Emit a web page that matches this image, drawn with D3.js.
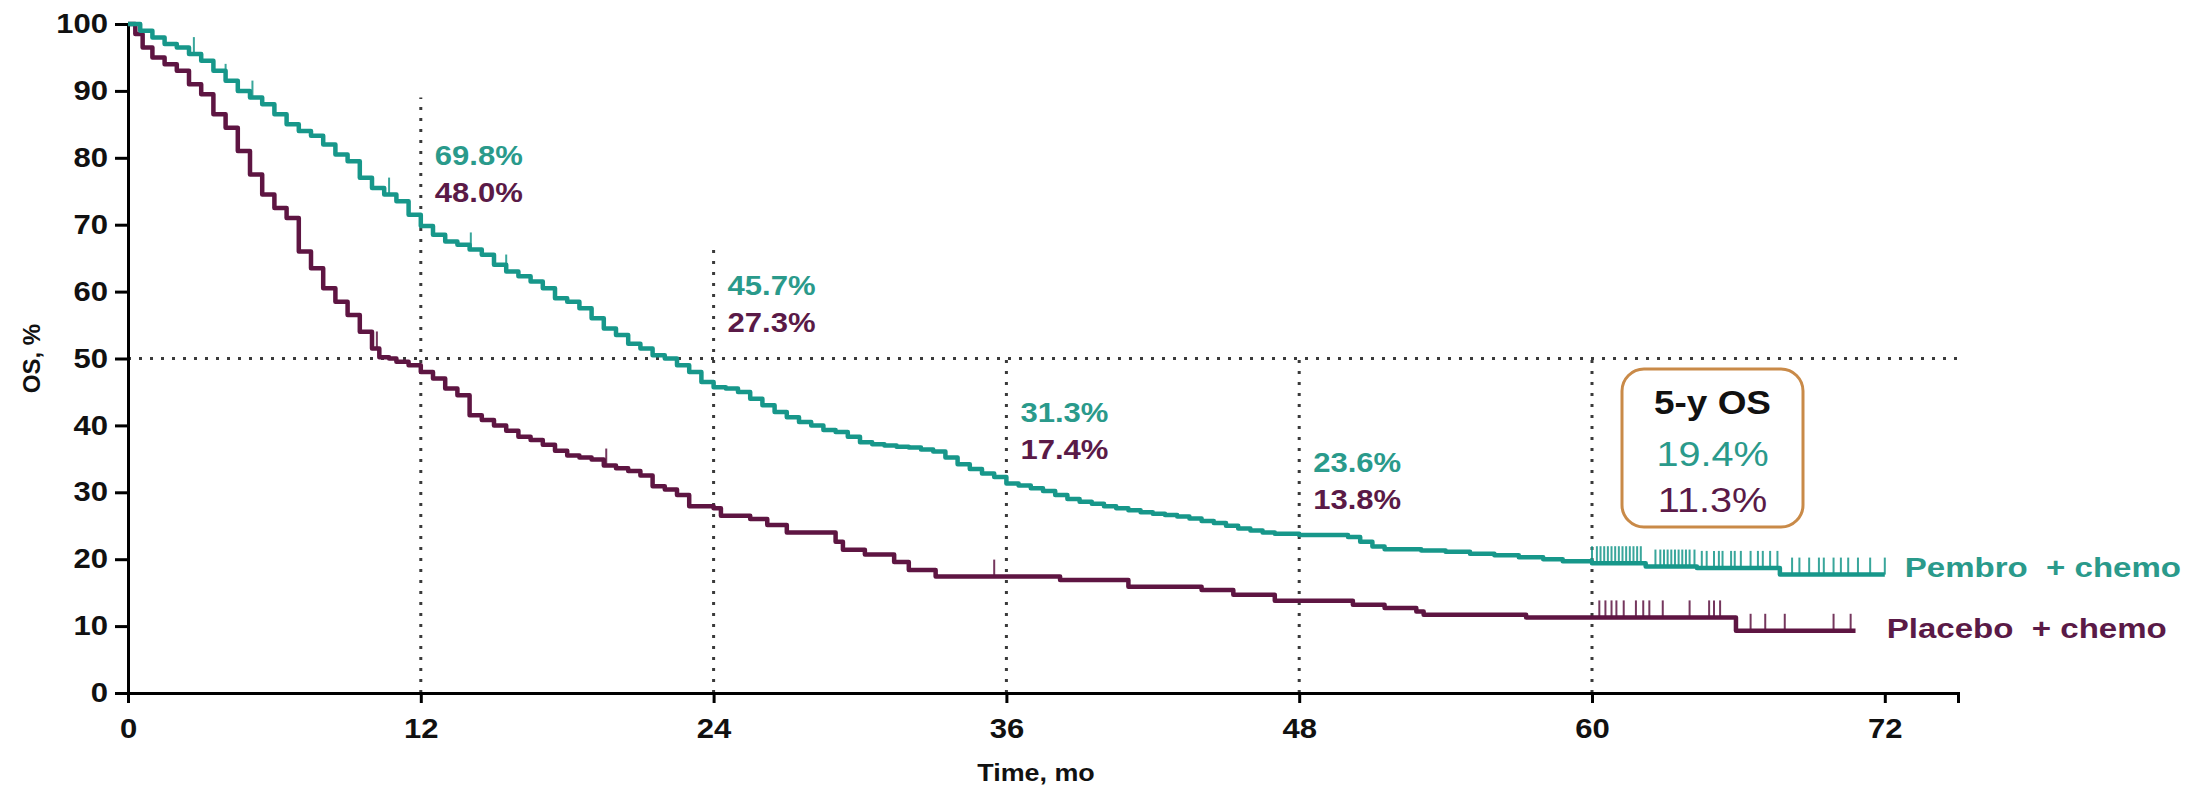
<!DOCTYPE html>
<html><head><meta charset="utf-8">
<script src="https://cdn.jsdelivr.net/npm/d3@7"></script>
<style>
html,body{margin:0;padding:0;background:#fff;}
svg{display:block;}
text{font-family:"Liberation Sans",Arial,sans-serif;}
</style>
</head><body>
<svg id="chart" width="2208" height="791"></svg>
<script>
// ---------- DATA ----------
const xTicks = [0, 12, 24, 36, 48, 60, 72];
const yTicks = [0, 10, 20, 30, 40, 50, 60, 70, 80, 90, 100];
const xTitle = "Time, mo";
const yTitle = "OS, %";
const seriesNames = ["Pembro  + chemo", "Placebo  + chemo"];

const pembroTime = [0,0.5,1,1.5,2,2.5,3,3.5,4,4.5,5,5.5,6,6.5,7,7.5,8,8.5,9,9.5,10,10.5,11,11.5,12,12.5,13,13.5,14,14.5,15,15.5,16,16.5,17,17.5,18,18.5,19,19.5,20,20.5,21,21.5,22,22.5,23,23.5,24,24.5,25,25.5,26,26.5,27,27.5,28,28.5,29,29.5,30,30.5,31,31.5,32,32.5,33,33.5,34,34.5,35,35.5,36,36.5,37,37.5,38,38.5,39,39.5,40,40.5,41,41.5,42,42.5,43,43.5,44,44.5,45,45.5,46,46.5,47,48,49,50,50.5,51,51.5,53,54,55,56,57,58,58.8,60,62.2,64.3,67.7,72];
const pembroSurv = [100,99,98,97,96.5,95.5,94.5,93,91.5,90,89,88,86.5,85,84,83.3,82,80.5,79.5,77,75.5,74.5,73.5,71.5,69.8,68.5,67.5,67,66.3,65.5,64,63,62.3,61.5,60.5,59,58.5,57.5,56,54.5,53.5,52.2,51.5,50.5,50,49,48,46.5,45.7,45.5,45,44,43,42,41.2,40.5,40,39.3,39,38.3,37.5,37.2,37,36.8,36.7,36.4,36.1,35.2,34.2,33.5,32.8,32.3,31.3,31,30.6,30.2,29.6,29,28.6,28.3,27.9,27.6,27.3,27,26.8,26.6,26.4,26.1,25.7,25.4,25,24.6,24.3,24,23.8,23.6,23.6,23.3,22.6,21.9,21.5,21.3,21.1,20.8,20.6,20.3,20,19.7,19.4,18.9,18.7,17.7,17.7];

const placeboTime = [0,0.3,0.6,1,1.5,2,2.5,3,3.5,4,4.5,5,5.5,6,6.5,7,7.5,8,8.5,9,9.5,10,10.3,10.7,11,11.5,12,12.5,13,13.5,14,14.5,15,15.5,16,16.5,17,17.5,18,18.5,19,19.5,20,20.5,21,21.5,22,22.5,23,24,24.3,25.5,26.2,27,29,29.3,30.2,31.4,32,33.1,38.2,41,44,45.3,47,50.2,51.5,52.8,53.1,57.3,65.9,70.8];
const placeboSurv = [100,98.5,96.5,95,94,93,91,89.5,86.5,84.5,81,77.5,74.5,72.5,71,66,63.5,60.5,58.5,56.5,54,51.5,50.2,50,49.5,49,48,47,45.5,44.5,41.5,40.8,40,39.2,38.3,37.8,37.1,36.2,35.5,35.2,34.9,34,33.6,33.2,32.5,30.9,30.4,29.6,27.9,27.6,26.5,26,25.1,24,22.6,21.4,20.7,19.6,18.4,17.4,16.9,15.9,15.4,14.7,13.8,13.2,12.7,12.2,11.7,11.3,9.3,9.3];

const pembroCensor = [2.7,4.0,5.1,10.7,14.05,15.5,60.0,60.2,60.35,60.5,60.65,60.8,60.95,61.1,61.25,61.4,61.55,61.7,61.85,62.0,62.6,62.8,62.95,63.1,63.25,63.4,63.55,63.7,63.85,64.0,64.2,64.5,64.7,65.0,65.2,65.35,65.7,65.85,66.1,66.5,66.8,67.0,67.3,67.6,68.2,68.5,68.9,69.3,69.5,69.9,70.2,70.5,70.9,71.4,72.0];
const placeboCensor = [10.2,19.6,35.5,60.3,60.55,60.8,61.0,61.3,61.8,62.1,62.35,62.9,64.0,64.8,65.0,65.25,66.5,67.1,67.9,69.9,70.6];

const landmarkTimes = [12, 24, 36, 48, 60];
const landmarkTop = [89, 66.6, 50, 50, 50];
const pembroLandmark = ["69.8%", "45.7%", "31.3%", "23.6%"];
const placeboLandmark = ["48.0%", "27.3%", "17.4%", "13.8%"];
const fiveYear = ["5-y OS", "19.4%", "11.3%"];
const medianLine = 50;

// ---------- STYLE / LAYOUT ----------
const TEAL = "#17978a", MAROON = "#5e1542";
const TEAL_TXT = "#2a9a8b", MAROON_TXT = "#5a1a47";
const BOX = "#c98a48";
const FONT = '"Liberation Sans", Arial, sans-serif';
const SX = 1.15;
const landmarkLabelY = [165, 295, 422, 472];

const svg = d3.select("#chart");
const x = d3.scaleLinear().domain([0, 75]).range([128, 1958]);
const y = d3.scaleLinear().domain([0, 100]).range([693, 24]);

function survAt(times, vals, t) {
  const i = d3.bisectRight(times, t) - 1;
  return vals[Math.max(0, i)];
}
function stext(g, px, py, str, opts) {
  return g.append("text")
    .attr("transform", `translate(${px},${py}) scale(${opts.sx || SX},1)`)
    .attr("font-family", FONT)
    .attr("font-size", opts.size)
    .attr("font-weight", opts.weight || "normal")
    .attr("fill", opts.fill || "#111")
    .attr("text-anchor", opts.anchor || "start")
    .style("white-space", "pre")
    .text(str);
}

// dotted reference lines
const dots = svg.append("g").attr("stroke", "#3a3a3a").attr("stroke-width", 3).attr("stroke-dasharray", "3,8").attr("fill", "none");
dots.append("line").attr("x1", x(0)).attr("x2", x(75)).attr("y1", y(medianLine)).attr("y2", y(medianLine));
landmarkTimes.forEach((t, i) => {
  dots.append("line").attr("x1", x(t)).attr("x2", x(t)).attr("y1", y(0)).attr("y2", y(landmarkTop[i]));
});

// axes
const gx = svg.append("g").attr("transform", `translate(0,${y(0)})`)
  .call(d3.axisBottom(x).tickValues(xTicks).tickSizeOuter(0).tickSize(10).tickPadding(16));
const gy = svg.append("g").attr("transform", `translate(${x(0)},0)`)
  .call(d3.axisLeft(y).tickValues(yTicks).tickSizeOuter(0).tickSize(13).tickPadding(7));
[gx, gy].forEach(g => {
  g.select(".domain").attr("stroke", "#000").attr("stroke-width", 3);
  g.selectAll(".tick line").attr("stroke", "#000").attr("stroke-width", 3);
  g.selectAll(".tick text").attr("font-family", FONT).attr("font-size", 27).attr("font-weight", "bold").attr("fill", "#111");
});
gx.selectAll(".tick text").attr("transform", `scale(${SX},1)`);
gy.selectAll(".tick text").attr("x", -20 / SX).attr("transform", `scale(${SX},1)`);

// axis titles
stext(svg, 1036, 781, xTitle, {size: 24, weight: "bold", anchor: "middle", sx: 1.12});
svg.append("text").attr("transform", `translate(40,${y(50)}) rotate(-90)`)
  .attr("font-family", FONT).attr("font-size", 24).attr("font-weight", "bold").attr("fill", "#111")
  .attr("text-anchor", "middle").text(yTitle);

// curves
const line = d3.line().x(d => x(d[0])).y(d => y(d[1])).curve(d3.curveStepAfter);
const series = [
  {time: placeboTime, surv: placeboSurv, cens: placeboCensor, color: MAROON},
  {time: pembroTime, surv: pembroSurv, cens: pembroCensor, color: TEAL}
];
series.forEach(s => {
  svg.append("path").datum(d3.zip(s.time, s.surv)).attr("d", line)
    .attr("fill", "none").attr("stroke", s.color).attr("stroke-width", 4.5).attr("stroke-linejoin", "round");
  svg.append("g").selectAll("line").data(s.cens).join("line")
    .attr("x1", d => x(d)).attr("x2", d => x(d))
    .attr("y1", d => y(survAt(s.time, s.surv, d)))
    .attr("y2", d => y(survAt(s.time, s.surv, d)) - 17)
    .attr("stroke", s.color).attr("stroke-width", 2).attr("opacity", 0.85);
});

// landmark labels
pembroLandmark.forEach((lab, i) => {
  const px = x(landmarkTimes[i]) + 14;
  stext(svg, px, landmarkLabelY[i], lab, {size: 27, weight: "bold", fill: TEAL_TXT});
  stext(svg, px, landmarkLabelY[i] + 37, placeboLandmark[i], {size: 27, weight: "bold", fill: MAROON_TXT});
});

// 5-year box
const bx = x(60) + 30, by = 369, bw = 181, bh = 158;
svg.append("rect").attr("x", bx).attr("y", by).attr("width", bw).attr("height", bh)
  .attr("rx", 22).attr("fill", "#fff").attr("stroke", BOX).attr("stroke-width", 3);
stext(svg, bx + bw / 2, 414, fiveYear[0], {size: 33, weight: "bold", anchor: "middle", fill: "#111", sx: 1.12});
stext(svg, bx + bw / 2, 466, fiveYear[1], {size: 36, anchor: "middle", fill: TEAL_TXT, sx: 1.1});
stext(svg, bx + bw / 2, 512, fiveYear[2], {size: 36, anchor: "middle", fill: MAROON_TXT, sx: 1.1});

// legend labels
stext(svg, x(72) + 20, y(pembroSurv[pembroSurv.length - 1]) + 2, seriesNames[0], {size: 28, weight: "bold", fill: TEAL_TXT, sx: 1.18});
stext(svg, x(72) + 2, y(placeboSurv[placeboSurv.length - 1]) + 7, seriesNames[1], {size: 28, weight: "bold", fill: MAROON_TXT, sx: 1.18});
</script>
</body></html>
